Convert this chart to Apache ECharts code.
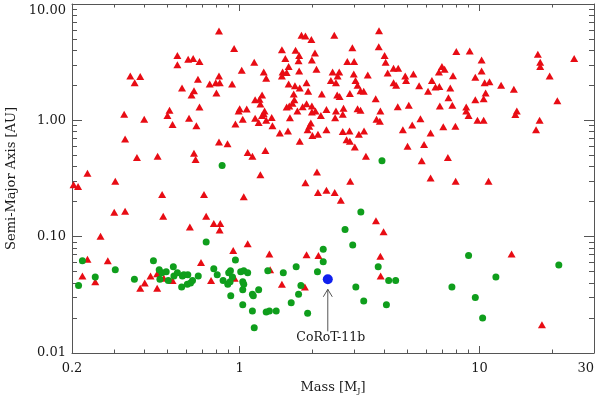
<!DOCTYPE html>
<html>
<head>
<meta charset="utf-8">
<script src="https://cdn.jsdelivr.net/npm/echarts@6/dist/echarts.min.js"></script>
<style>
  html, body { margin: 0; padding: 0; background: #fff; }
  #chart { width: 600px; height: 398px; }
</style>
</head>
<body>
<div id="chart"></div>
<script>
// radial-velocity planets: [mass in M_J, semi-major axis in AU]
const rvPlanets = [
  [0.55,3.6],[0.55,3.0],[0.61,3.35],[0.64,3.4],[0.68,3.2],[0.35,2.4],[0.385,2.38],[0.365,2.1],[0.575,1.9],[0.645,1.8],
  [0.63,1.65],[0.67,2.25],[0.68,1.3],[0.51,1.22],[0.50,1.1],[0.33,1.13],[0.40,1.02],[0.615,1.04],[0.525,0.92],[0.66,0.9],
  [0.333,0.69],[0.645,0.52],[0.655,0.46],[0.373,0.48],[0.455,0.49],[0.232,0.35],[0.303,0.30],[0.203,0.28],[0.212,0.27],[0.475,0.23],
  [0.30,0.162],[0.333,0.165],[0.48,0.15],[0.62,0.121],[0.263,0.101],[0.232,0.064],[0.282,0.062],[0.221,0.046],[0.25,0.041],[0.385,0.036],
  [0.402,0.040],[0.425,0.046],[0.453,0.048],[0.453,0.036],[0.483,0.044],[0.525,0.042],[0.69,0.060],
  [0.725,0.15],[0.78,0.13],[0.83,0.13],[0.825,0.114],[1.08,0.087],[0.94,0.076],[1.33,0.071],[0.76,0.042],[0.953,0.044],
  [1.34,0.052],[1.5,0.039],[1.9,0.070],[2.13,0.069],[1.87,0.037],[2.64,0.206],[3.7,0.137],[3.98,0.11],[3.86,0.068],[3.87,0.046],
  [13.6,0.071],[18.2,0.0175],
  [0.82,5.85],[0.948,4.15],[1.15,3.15],[1.5,4.05],[1.71,4.0],[1.77,3.6],[1.55,3.4],[1.76,3.25],[1.6,2.9],[1.02,2.7],
  [1.26,2.6],[1.29,2.3],[1.51,2.6],[1.57,2.58],[1.5,2.4],[1.77,2.65],[0.82,2.4],[0.75,2.05],[0.795,2.1],[0.826,2.1],
  [0.93,2.05],[0.80,1.72],[1.6,2.05],[1.7,1.98],[1.78,1.9],[1.68,1.68],[1.24,1.65],[1.16,1.5],[1.21,1.52],[1.22,1.38],
  [1.69,1.5],[1.66,1.4],[1.61,1.33],[1.57,1.3],[1.0,1.26],[0.99,1.2],[1.07,1.25],[1.27,1.2],[1.26,1.14],[1.24,1.1],
  [1.74,1.2],[1.03,1.02],[1.16,1.04],[1.2,0.96],[1.29,1.0],[1.36,1.06],[1.37,0.9],[0.96,0.93],[1.62,1.05],[1.47,0.78],
  [1.59,0.81],[1.78,0.66],[0.82,0.65],[0.89,0.63],[1.08,0.53],[1.13,0.49],[1.28,0.55],[1.22,0.34],[0.71,0.23],[1.04,0.22],
  [1.81,5.4],[1.88,5.3],[1.99,4.95],[2.48,5.4],[3.81,5.9],[3.8,4.3],[2.95,4.2],[2.06,3.8],[4.02,3.6],[2.0,3.3],
  [2.81,3.2],[3.0,3.2],[4.06,3.15],[4.38,2.8],[4.58,2.8],[2.09,2.75],[2.44,2.6],[2.6,2.6],[2.56,2.4],[2.99,2.5],
  [3.42,2.45],[4.14,2.55],[2.4,2.2],[2.52,2.1],[3.04,2.2],[3.1,2.0],[1.9,2.1],[4.38,2.1],[4.49,2.0],[1.93,1.78],
  [2.2,1.68],[3.19,1.8],[3.29,1.78],[2.55,1.65],[2.61,1.6],[2.88,1.7],[3.69,1.53],[1.9,1.39],[1.83,1.31],[2.0,1.33],
  [2.07,1.2],[2.0,1.18],[2.3,1.24],[2.52,1.2],[2.71,1.27],[2.69,1.13],[3.1,1.26],[3.19,1.22],[3.86,1.2],[4.56,1.31],
  [2.18,1.1],[2.5,1.05],[3.72,1.02],[3.84,0.98],[1.98,0.95],[1.95,0.89],[1.92,0.83],[2.3,0.83],[2.69,0.80],[2.87,0.81],
  [3.3,0.81],[3.14,0.76],[2.01,0.74],[2.12,0.76],[2.79,0.68],[2.88,0.66],[3.02,0.59],[3.36,0.49],[2.1,0.36],[1.88,0.29],
  [2.89,0.30],[2.12,0.24],[2.3,0.25],[2.49,0.24],
  [8.0,3.9],[9.1,3.95],[10.2,3.3],[6.97,2.9],[7.15,2.75],[6.77,2.6],[7.75,2.42],[10.2,2.65],[9.6,2.35],[4.9,2.4],
  [4.94,2.2],[5.3,2.5],[6.33,2.2],[10.5,2.1],[11.0,2.15],[5.6,1.98],[6.55,1.93],[6.8,1.95],[7.55,1.9],[6.1,1.78],
  [10.6,1.72],[7.42,1.56],[9.6,1.5],[10.4,1.53],[5.07,1.35],[6.83,1.33],[7.7,1.35],[8.8,1.3],[8.8,1.2],[9.0,1.1],
  [9.8,1.0],[10.4,1.0],[5.67,1.03],[5.24,0.91],[4.79,0.83],[7.06,0.88],[7.93,0.89],[6.25,0.78],[5.01,0.60],[5.87,0.62],
  [7.38,0.48],[5.74,0.45],[6.25,0.32],[7.95,0.30],[10.9,0.30],
  [17.5,3.7],[17.9,3.15],[17.9,2.9],[24.8,3.4],[19.6,2.4],[12.3,2.0],[13.9,1.85],[21.1,1.47],[14.3,1.2],[14.1,1.12],
  [17.8,1.0],[17.2,0.83]
]

// transiting planets
const transitPlanets = [
  [0.213,0.038],[0.221,0.062],[0.25,0.045],[0.303,0.052],[0.364,0.043],[0.437,0.062],[0.462,0.052],[0.465,0.043],[0.474,0.049],[0.494,0.050],
  [0.504,0.042],[0.529,0.055],[0.532,0.046],[0.55,0.049],[0.577,0.046],[0.573,0.037],[0.585,0.047],[0.608,0.047],[0.605,0.039],[0.624,0.040],
  [0.636,0.042],[0.672,0.046],[3.2,0.163],[2.75,0.115],[2.96,0.085],[2.23,0.078],[2.23,0.061],[2.11,0.050],[0.725,0.090],[0.96,0.063],
  [0.78,0.053],[0.806,0.047],[0.853,0.042],[0.90,0.049],[0.915,0.051],[0.933,0.045],[0.892,0.039],[0.912,0.041],[0.918,0.031],[1.01,0.050],
  [1.04,0.051],[1.08,0.049],[1.03,0.041],[1.04,0.039],[1.03,0.035],[1.2,0.035],[1.13,0.032],[1.14,0.031],[1.03,0.026],[1.13,0.023],
  [1.15,0.0165],[1.29,0.0225],[1.33,0.023],[1.42,0.023],[1.31,0.051],[1.52,0.049],[1.72,0.055],[1.8,0.038],[1.76,0.032],[1.64,0.027],
  [1.92,0.022],[3.05,0.037],[3.29,0.028],[4.09,0.026],[3.78,0.055],[4.18,0.042],[4.47,0.042],
  [9.0,0.069],[11.7,0.045],[7.67,0.037],[9.6,0.030],[10.3,0.020],[21.4,0.057],[0.845,0.41],[3.92,0.45]
]

const corot11b = [[2.33, 0.043]]
const corotLabel = 'CoRoT-11b'

const massRange = [0.2, 30]
const axisRange = [0.01, 10]
const massLabels = [0.2, 1, 10, 30]
const massMajor = [1, 10]
const massMinor = [0.3, 0.4, 0.5, 0.6, 0.7, 0.8, 0.9, 2, 3, 4, 5, 6, 7, 8, 9, 20]
const axisLabels = [0.01, 0.1, 1, 10]
const axisMinor = [0.02, 0.03, 0.04, 0.05, 0.06, 0.07, 0.08, 0.09,
  0.2, 0.3, 0.4, 0.5, 0.6, 0.7, 0.8, 0.9, 2, 3, 4, 5, 6, 7, 8, 9]

const font = '"DejaVu Serif", serif'
const ink = '#1a1a1a'
const lineColor = '#555'

const makeAxis = (opts) => ({
  type: 'log',
  logBase: 10,
  position: opts.position,
  min: opts.range[0],
  max: opts.range[1],
  splitLine: { show: false },
  axisLine: { show: !!opts.line, lineStyle: { color: lineColor, width: 1 } },
  axisTick: {
    show: true,
    inside: true,
    length: opts.tickLen,
    customValues: opts.ticks,
    lineStyle: { color: lineColor, width: 1 }
  },
  axisLabel: opts.labels ? Object.assign({
    show: true,
    customValues: opts.labels,
    formatter: opts.formatter,
    color: ink,
    fontFamily: font,
    fontSize: 13,
    margin: opts.margin
  }, opts.labelExtra || {}) : { show: false },
  name: opts.name || '',
  nameLocation: 'middle',
  nameGap: opts.nameGap || 0,
  nameTextStyle: opts.nameTextStyle,
  silent: true
})

const chart = echarts.init(document.getElementById('chart'), null, { renderer: 'canvas' })

chart.setOption({
  backgroundColor: '#fff',
  animation: false,
  grid: { left: 72, right: 6, top: 4, bottom: 45, outerBoundsMode: 'none' },
  xAxis: [
    makeAxis({
      position: 'bottom', range: massRange, line: true, ticks: massMajor, tickLen: 7,
      labels: massLabels, formatter: (v) => String(+v.toPrecision(3)), margin: 9,
      labelExtra: { alignMaxLabel: 'right' },
      name: 'Mass [M{sub|J}]', nameGap: 27,
      nameTextStyle: {
        color: ink, fontFamily: font, fontSize: 13,
        rich: { sub: { fontFamily: font, fontSize: 8, color: ink, verticalAlign: 'bottom', padding: [7, 0, 0, 0] } }
      }
    }),
    makeAxis({ position: 'bottom', range: massRange, ticks: massMinor, tickLen: 3.5 }),
    makeAxis({ position: 'top', range: massRange, line: true, ticks: massMajor, tickLen: 7 }),
    makeAxis({ position: 'top', range: massRange, ticks: massMinor, tickLen: 3.5 })
  ],
  yAxis: [
    makeAxis({
      position: 'left', range: axisRange, line: true, ticks: axisLabels, tickLen: 10,
      labels: axisLabels, formatter: (v) => (+v).toFixed(2), margin: 6,
      labelExtra: { verticalAlignMaxLabel: 'top' },
      name: 'Semi-Major Axis [AU]', nameGap: 52,
      nameTextStyle: { color: ink, fontFamily: font, fontSize: 13 }
    }),
    makeAxis({ position: 'left', range: axisRange, ticks: axisMinor, tickLen: 5 }),
    makeAxis({ position: 'right', range: axisRange, line: true, ticks: axisLabels, tickLen: 10 }),
    makeAxis({ position: 'right', range: axisRange, ticks: axisMinor, tickLen: 5 })
  ],
  series: [
    {
      name: 'RV planets',
      type: 'scatter',
      data: rvPlanets,
      symbol: 'triangle',
      symbolSize: [8, 7],
      itemStyle: { color: '#e80c14', opacity: 1 },
      silent: true
    },
    {
      name: 'Transiting planets',
      type: 'scatter',
      data: transitPlanets,
      symbol: 'circle',
      symbolSize: 7,
      itemStyle: { color: '#0f9e1c', opacity: 1 },
      silent: true
    },
    {
      // arrow + label pointing at CoRoT-11b
      name: 'annotation',
      type: 'custom',
      data: corot11b,
      silent: true,
      renderItem: (params, api) => {
        const p = api.coord([api.value(0), api.value(1)])
        const x = p[0], y = p[1]
        const stroke = { stroke: '#555', lineWidth: 1, fill: null }
        return {
          type: 'group',
          children: [
            { type: 'line', shape: { x1: x, y1: y + 10, x2: x, y2: y + 52 }, style: stroke },
            { type: 'polyline', shape: { points: [[x - 4.5, y + 17.5], [x, y + 10], [x + 4.5, y + 17.5]] }, style: stroke },
            {
              type: 'text',
              style: {
                text: corotLabel, x: x + 3, y: y + 58,
                align: 'center', verticalAlign: 'middle',
                font: '12.5px ' + font, fill: ink
              }
            }
          ]
        }
      }
    },
    {
      name: 'CoRoT-11b',
      type: 'scatter',
      data: corot11b,
      symbol: 'circle',
      symbolSize: 10,
      itemStyle: { color: '#1020ee', opacity: 1 },
      silent: true
    }
  ]
})
</script>
</body>
</html>
